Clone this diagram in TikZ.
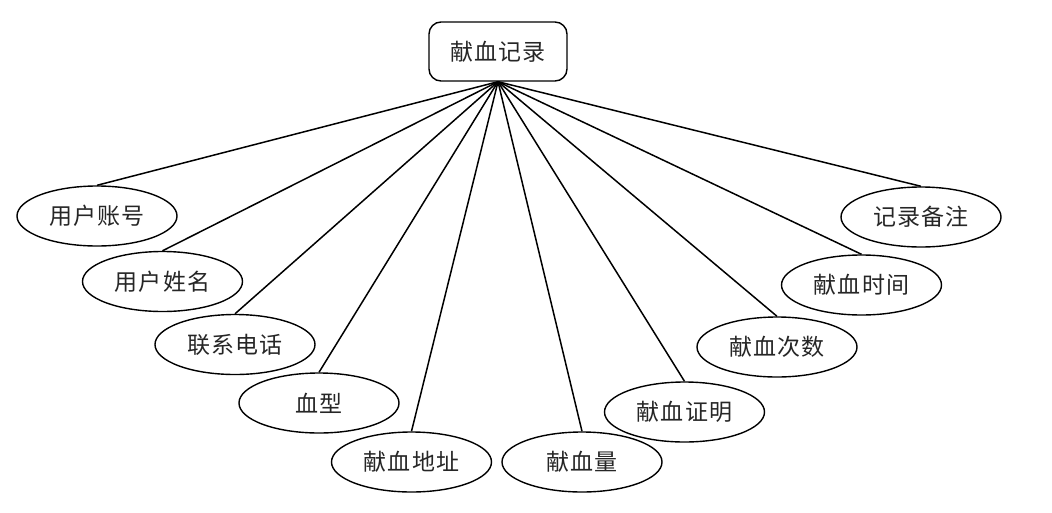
\documentclass[tikz,border=0pt]{standalone}
\usepackage{fontspec}
\usetikzlibrary{shapes.geometric}
\newfontfamily\cjk[LetterSpace=5]{Noto Sans CJK SC}
\begin{document}
\begin{tikzpicture}[x=1pt,y=-1pt,
  attr/.style={draw, ellipse, line width=1.4pt, minimum width=160pt, minimum height=60pt, inner sep=0pt, font=\cjk\fontsize{23}{28}\selectfont, text=black!85},
  rootbox/.style={draw, rectangle, rounded corners=12pt, line width=1.4pt, minimum width=138pt, minimum height=59pt, inner sep=0pt, font=\cjk\fontsize{23}{28}\selectfont, text=black!85},
  link/.style={line width=1.5pt}]
\useasboundingbox (0,0) rectangle (1052,512);
\node[rootbox] (root) at (498,51.5) {献血记录};
\node[attr] (a1) at (97,216) {用户账号};
\node[attr] (a2) at (162.5,281.5) {用户姓名};
\node[attr] (a3) at (235,344.5) {联系电话};
\node[attr] (a4) at (319,403) {血型};
\node[attr] (a5) at (411.5,462) {献血地址};
\node[attr] (a6) at (582,462) {献血量};
\node[attr] (a7) at (684.5,412) {献血证明};
\node[attr] (a8) at (777,347) {献血次数};
\node[attr] (a9) at (861.5,285) {献血时间};
\node[attr] (a10) at (921,217) {记录备注};
\foreach \n in {a1,a2,a3,a4,a5,a6,a7,a8,a9,a10}
  \draw[link] (root.south) -- (\n.north);
\end{tikzpicture}
\end{document}
